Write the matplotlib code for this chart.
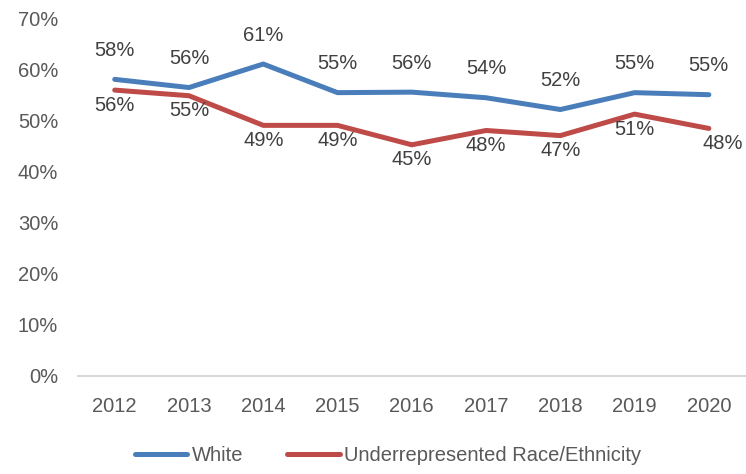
import numpy as np
import matplotlib
matplotlib.use("Agg")
import matplotlib.pyplot as plt

years = ["2012", "2013", "2014", "2015", "2016", "2017", "2018", "2019", "2020"]
white = [58.0, 56.4, 61.0, 55.4, 55.5, 54.4, 52.1, 55.4, 55.0]
urm = [55.9, 54.8, 49.0, 49.0, 45.2, 48.0, 47.0, 51.2, 48.4]
white_labels = ["58%", "56%", "61%", "55%", "56%", "54%", "52%", "55%", "55%"]
urm_labels = ["56%", "55%", "49%", "49%", "45%", "48%", "47%", "51%", "48%"]

plt.rcParams['font.family'] = ['Liberation Sans', 'DejaVu Sans']
txt = "#595959"
fs = 14.5

fig = plt.figure(figsize=(7.46, 4.74), dpi=100)
ax = fig.add_axes([0.104, 0.207, 0.896, 0.755])

x = np.arange(len(years))
ax.plot(x, white, color="#4A7EBB", lw=3.6, solid_capstyle="round", label="White")
ax.plot(x, urm, color="#BE4B48", lw=3.6, solid_capstyle="round",
        label="Underrepresented Race/Ethnicity")

for i in range(len(years)):
    ax.annotate(white_labels[i], (x[i], white[i]), xytext=(0, 14), textcoords="offset points",
                ha="center", va="bottom", fontsize=fs, color="#404040")
    dx = 10 if i == len(years) - 1 else 0
    ax.annotate(urm_labels[i], (x[i], urm[i]), xytext=(dx, -4), textcoords="offset points",
                ha="center", va="top", fontsize=fs, color="#404040")

ax.set_xlim(-0.5, len(years) - 0.5)
ax.set_ylim(0, 70)
ax.set_xticks(x)
ax.set_xticklabels(years)
ax.set_yticks(np.arange(0, 71, 10))
ax.set_yticklabels([f"{v}%" for v in range(0, 71, 10)])
ax.tick_params(axis="both", length=0, labelsize=fs, colors=txt)
ax.tick_params(axis="x", pad=15)
ax.tick_params(axis="y", pad=14)
for s in ["top", "right", "left"]:
    ax.spines[s].set_visible(False)
ax.spines["bottom"].set_color("#D9D9D9")
ax.spines["bottom"].set_linewidth(1.5)

leg = fig.legend(loc="lower center", bbox_to_anchor=(0.52, -0.02), ncol=2, frameon=False,
                 fontsize=fs, handlelength=2.6, handletextpad=0.2, columnspacing=2.2)
for t in leg.get_texts():
    t.set_color(txt)

fig.savefig("out.png", dpi=100)
